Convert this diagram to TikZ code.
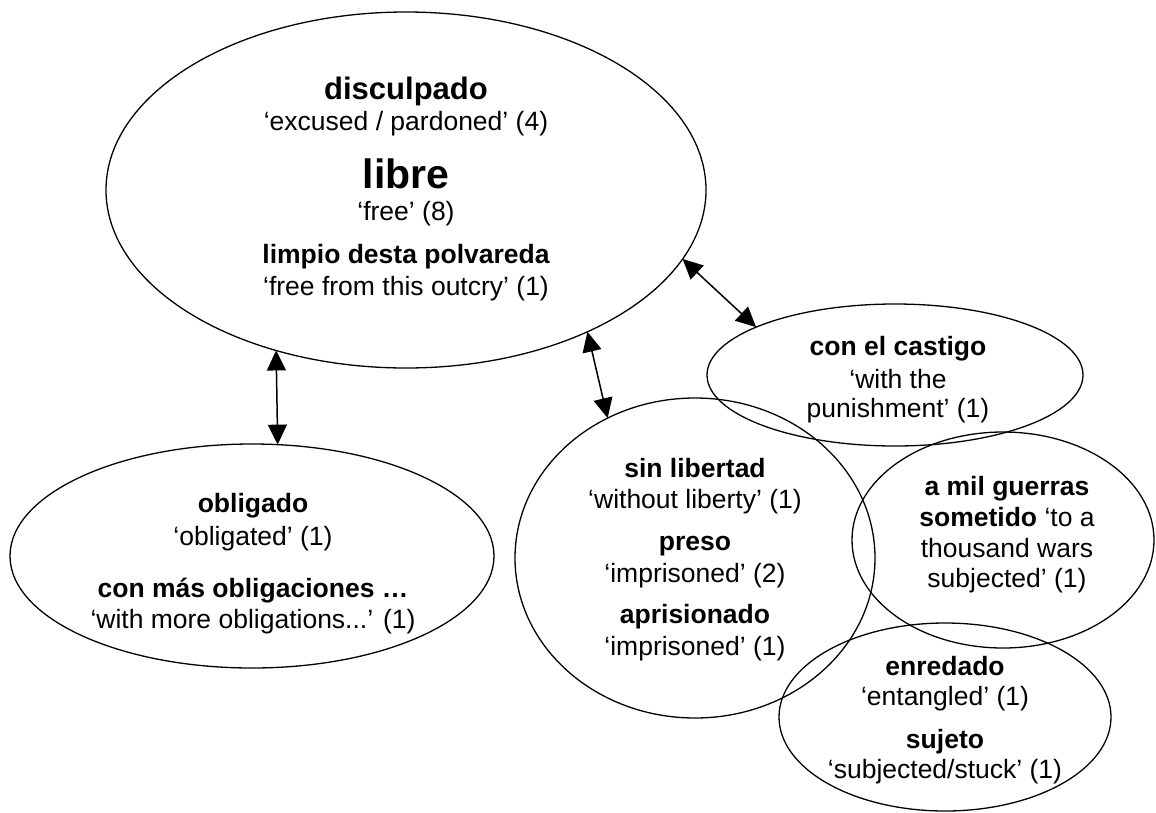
\documentclass[tikz,border=0pt]{standalone}
\usepackage{fontspec}
\setmainfont{Liberation Sans}
\usetikzlibrary{shapes.geometric,arrows.meta}
\begin{document}
\begin{tikzpicture}[x=1pt,y=-1pt,
 oval/.style={ellipse,draw,line width=1.3pt,inner sep=0pt,outer sep=0pt},
 w/.style={anchor=base,inner sep=0pt,font=\fontsize{26.5}{30}\selectfont},
 b/.style={anchor=base,inner sep=0pt,font=\fontsize{26.5}{30}\selectfont\bfseries},
 link/.style={line width=1.5pt,{Triangle[length=20pt,width=19pt]}-{Triangle[length=20pt,width=19pt]}}]
\useasboundingbox (0,0) rectangle (1156,812);
% ellipses
\node[oval,minimum width=600pt,minimum height=356pt] (free) at (406,190) {};
\node[oval,minimum width=484pt,minimum height=224pt] (oblig) at (252,556) {};
\node[oval,minimum width=360pt,minimum height=320pt] (sin) at (695,558) {};
\node[oval,minimum width=376pt,minimum height=142pt] (cast) at (895,375) {};
\node[oval,minimum width=302pt,minimum height=216pt] (guer) at (1003,540) {};
\node[oval,minimum width=332pt,minimum height=188pt] (enr) at (945,717) {};
% big ellipse text
\node[b,font=\fontsize{31}{34}\selectfont\bfseries] (f1) at (406,99) {disculpado};
\node[w] (f2) at (406,130) {‘excused / pardoned’ (4)};
\node[b,font=\fontsize{41}{44}\selectfont\bfseries] (f3) at (406,188) {libre};
\node[w] (f4) at (406,220) {‘free’ (8)};
\node[b] (f5) at (406,263) {limpio desta polvareda};
\node[w] (f6) at (406,295) {‘free from this outcry’ (1)};
% obligado
\node[b] (o1) at (253,512) {obligado};
\node[w] (o2) at (253,545) {‘obligated’ (1)};
\node[b] (o3) at (253,597) {con más obligaciones …};
\node[w] (o4) at (253,628) {‘with more obligations...’ (1)};
% sin libertad
\node[b] (s1) at (695,477) {sin libertad};
\node[w] (s2) at (695,508) {‘without liberty’ (1)};
\node[b] (s3) at (695,550) {preso};
\node[w] (s4) at (695,582) {‘imprisoned’ (2)};
\node[b] (s5) at (695,623) {aprisionado};
\node[w] (s6) at (695,655) {‘imprisoned’ (1)};
% castigo
\node[b] (c1) at (898,355) {con el castigo};
\node[w] (c2) at (898,388) {‘with the};
\node[w] (c3) at (898,417) {punishment’ (1)};
% guerras
\node[b] (g1) at (1007,495) {a mil guerras};
\node[w] (g2) at (1007,526) {\textbf{sometido} ‘to a};
\node[w] (g3) at (1007,557) {thousand wars};
\node[w] (g4) at (1007,587) {subjected’ (1)};
% enredado
\node[b] (e1) at (945,675) {enredado};
\node[w] (e2) at (945,705) {‘entangled’ (1)};
\node[b] (e3) at (945,748) {sujeto};
\node[w] (e4) at (945,778) {‘subjected/stuck’ (1)};
% connectors
\draw[link] (free.231.4) -- (oblig.77.6);
\draw[link] (free.322.2) -- (sin.122.2);
\draw[link] (free.346.2) -- (cast.161.7);
\end{tikzpicture}
\end{document}
